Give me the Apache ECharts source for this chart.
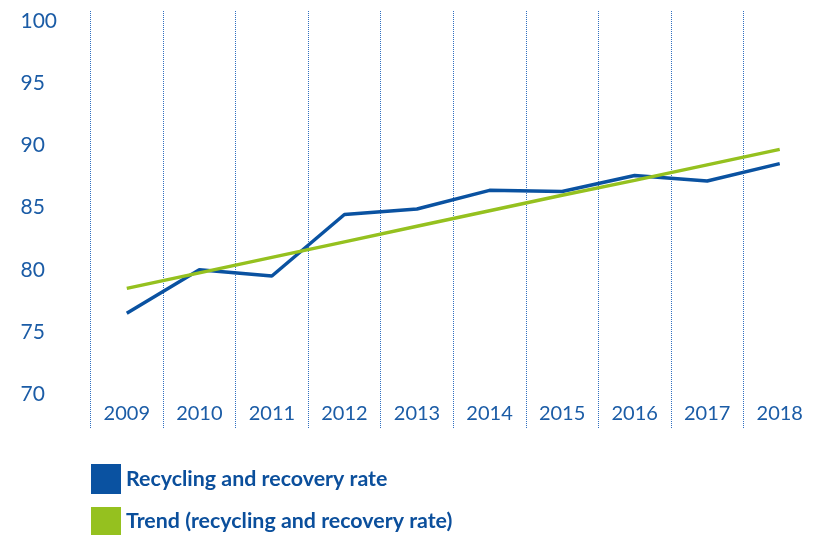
<!DOCTYPE html>
<html>
<head>
<meta charset="utf-8">
<script src="https://cdn.jsdelivr.net/npm/echarts@6/dist/echarts.min.js"></script>
<style>
  html, body { margin: 0; padding: 0; background: #fff; }
  #chart_one { width: 816px; height: 535px; }
</style>
</head>
<body>
<div id="chart_one"></div>
<script>
    // values
    var years = ['2009', '2010', '2011', '2012', '2013', '2014', '2015', '2016', '2017', '2018'];
    var recyclingRate = [76.5, 80.0, 79.5, 84.45, 84.9, 86.4, 86.3, 87.6, 87.15, 88.55];
    var trendRate = [78.5, 79.75, 81.0, 82.25, 83.5, 84.75, 86.0, 87.2, 88.45, 89.7];
    var yTicks = [70, 75, 80, 85, 90, 95, 100];

    var blue = '#0a52a1';
    var green = '#95c11f';
    var textBlue = '#1b5ca6';
    var legendBlue = '#0b4f9c';

    var theDom = document.getElementById('chart_one');
    var myChart = echarts.init(theDom);
    var option;

    var legendText = {
        color: legendBlue,
        fontSize: 21.4,
        fontWeight: 'bold',
        fontFamily: 'Lato'
    };

option = {
    animation: false,
    textStyle: {
        fontFamily: 'Lato'
    },
    legend: [
        {
            left: 91,
            top: 464,
            padding: 0,
            itemWidth: 30,
            itemHeight: 30,
            itemGap: 8,
            icon: 'rect',
            textStyle: legendText,
            data: ['Recycling and recovery rate']
        },
        {
            left: 91,
            top: 507,
            padding: 0,
            itemWidth: 30,
            itemHeight: 28,
            icon: 'rect',
            textStyle: legendText,
            data: ['Trend (recycling and recovery rate)']
        }
    ],
    grid: {
        left: 90.5,
        top: 11,
        width: 733,
        bottom: 107,
        containLabel: false
    },
    xAxis: [
        {
            type: 'category',
            boundaryGap: true,
            data: years,
            axisLine: { show: false },
            axisTick: { show: false },
            axisLabel: {
                inside: true,
                margin: 4,
                color: textBlue,
                fontSize: 20,
                fontFamily: 'Lato',
                interval: 0
            },
            splitLine: {
                show: true,
                interval: 0,
                lineStyle: {
                    color: '#2f6fc0',
                    width: 1,
                    type: 'dotted'
                }
            }
        }
    ],
    yAxis: [
        {
            type: 'value',
            min: 67.25,
            max: 100.85,
            axisLine: { show: false },
            axisTick: { show: false },
            splitLine: { show: false },
            axisLabel: {
                customValues: yTicks,
                align: 'left',
                margin: 70,
                color: textBlue,
                fontSize: 21,
                fontFamily: 'Lato'
            }
        }
    ],
    series: [
        {
            name: 'Recycling and recovery rate',
            type: 'line',
            color: blue,
            symbol: 'none',
            lineStyle: { width: 3.5, color: blue },
            data: recyclingRate
        },
        {
            name: 'Trend (recycling and recovery rate)',
            type: 'line',
            color: green,
            symbol: 'none',
            lineStyle: { width: 3.5, color: green },
            data: trendRate
        }
    ]
};

myChart.setOption(option);
window.onresize = function() {
  myChart.resize();
};
</script>
</body>
</html>
